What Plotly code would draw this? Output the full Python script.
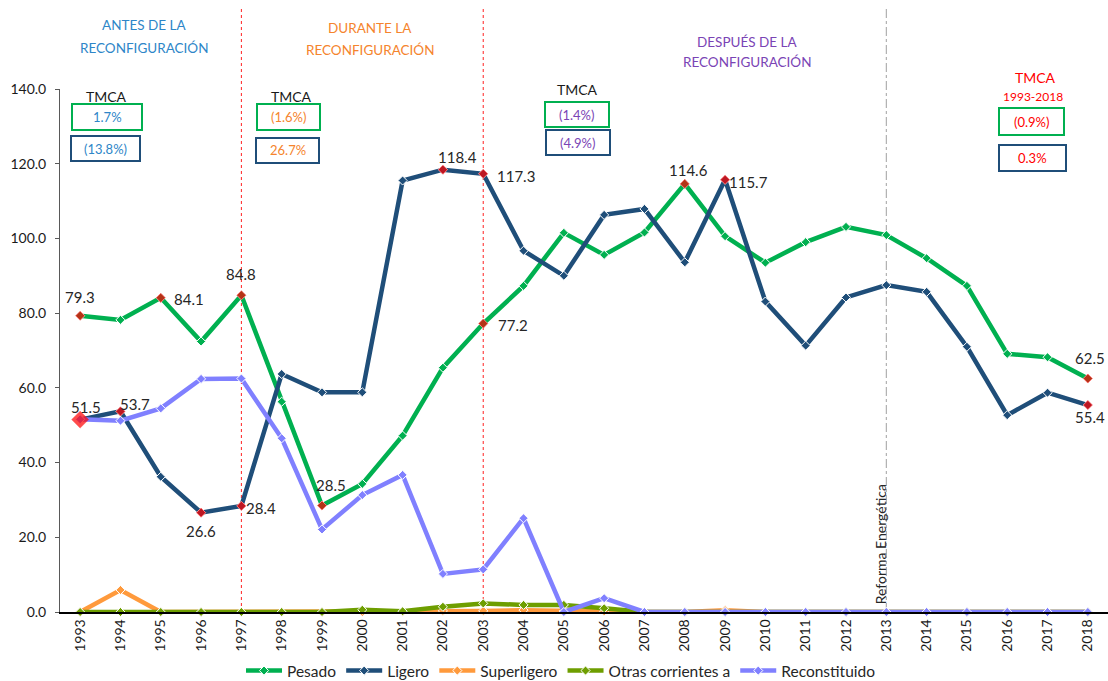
import plotly.graph_objects as go

years = list(range(1993, 2019))
year_labels = [str(y) for y in years]

pesado = [79.3, 78.2, 84.1, 72.4, 84.8, 56.3, 28.5, 34.3, 47.2, 65.4, 77.2, 87.3, 101.5,
          95.6, 101.6, 114.6, 100.6, 93.5, 99.0, 103.1, 100.9, 94.7, 87.3, 69.1, 68.2, 62.5]
ligero = [51.5, 53.7, 36.2, 26.6, 28.4, 63.7, 58.8, 58.8, 115.5, 118.4, 117.3, 96.7, 90.0,
          106.3, 107.9, 93.6, 115.7, 83.1, 71.3, 84.2, 87.5, 85.7, 71.0, 52.7, 58.7, 55.4]
superligero = [0.0, 5.9, 0.0, 0.0, 0.0, 0.0, 0.0, 0.0, 0.0, 0.3, 0.3, 0.5, 0.3,
               0.2, 0.0, 0.0, 0.5, 0.0, 0.0, 0.0, 0.0, 0.0, 0.0, 0.0, 0.0, 0.0]
otras = [0.0, 0.0, 0.0, 0.0, 0.0, 0.0, 0.0, 0.6, 0.2, 1.4, 2.3, 1.9, 1.9,
         1.0, 0.0, 0.0, 0.0, 0.0, 0.0, 0.0, 0.0, 0.0, 0.0, 0.0, 0.0, 0.0]
reconstituido = [51.6, 51.2, 54.5, 62.4, 62.5, 46.5, 22.1, 31.3, 36.7, 10.2, 11.4, 25.1, 0.0,
                 3.7, 0.0, 0.0, 0.0, 0.0, 0.0, 0.0, 0.0, 0.0, 0.0, 0.0, 0.0, 0.0]

series_names = ["Pesado", "Ligero", "Superligero", "Otras corrientes a", "Reconstituido"]
series_values = [pesado, ligero, superligero, otras, reconstituido]
series_colors = ["#00B050", "#1F4E79", "#FF9A3C", "#6E9E00", "#8080FF"]

# highlighted (labelled) points: year -> (xshift, yshift) of the label
pesado_labels = {1993: (0, 19), 1995: (28, -1), 1997: (0, 21), 1999: (9, 21),
                 2003: (30, -1), 2008: (4, 14), 2018: (2, 21)}
ligero_labels = {1993: (6, 13), 1994: (15, 7), 1996: (0, -18), 1997: (20, -2),
                 2002: (15, 13), 2003: (33, -2), 2009: (23, -2), 2018: (2, -12)}
highlight = {0: pesado_labels, 1: ligero_labels}

tmca_boxes_text = ["1.7%", "(13.8%)", "(1.6%)", "26.7%", "(1.4%)", "(4.9%)", "(0.9%)", "0.3%"]

FONT = "Lato, 'Open Sans', sans-serif"

W, H = 1108, 681
L, R, T, B = 60, 1108, 89, 612


def pxx(x):
    return (x - L) / (R - L)


def pxy(y):
    return (B - y) / (B - T)


def text_ann(x, y, txt, size, color, **kw):
    d = dict(x=pxx(x), y=pxy(y), xref="paper", yref="paper", text=txt, showarrow=False,
             xanchor="center", yanchor="middle",
             font=dict(family=FONT, size=size, color=color))
    d.update(kw)
    return d


fig = go.Figure()
for name, vals, col in zip(series_names, series_values, series_colors):
    fig.add_trace(go.Scatter(
        x=years, y=vals, name=name, mode="lines+markers",
        line=dict(color=col, width=4.5),
        marker=dict(symbol="diamond", size=7, color=col, line=dict(color="white", width=1)),
        cliponaxis=False,
    ))

annotations = []
for i, hl in highlight.items():
    vals = series_values[i]
    hx = list(hl.keys())
    hy = [vals[years.index(y)] for y in hx]
    hs = [13 if (i == 1 and y == 1993) else 7 for y in hx]
    fig.add_trace(go.Scatter(
        x=hx, y=hy, mode="markers", showlegend=False, hoverinfo="skip",
        marker=dict(symbol="diamond", size=hs, color="#FF0000",
                    line=dict(color="#FF0000", width=0.5)),
        cliponaxis=False,
    ))
    for y, (dx, dy) in hl.items():
        v = vals[years.index(y)]
        annotations.append(dict(x=y, y=v, xref="x", yref="y", text=f"{v:.1f}",
                                showarrow=False, xshift=dx, yshift=dy,
                                xanchor="center", yanchor="middle",
                                font=dict(family=FONT, size=15, color="#262626")))

# period titles (one annotation per line)
titles = [
    ("ANTES DE LA", 144, 25, "#2E86C8"), ("RECONFIGURACIÓN", 144, 48, "#2E86C8"),
    ("DURANTE LA", 370, 28, "#F5842D"), ("RECONFIGURACIÓN", 370, 50, "#F5842D"),
    ("DESPUÉS DE LA", 747, 42, "#7A44B5"), ("RECONFIGURACIÓN", 747, 62, "#7A44B5"),
]
for txt, x, y, c in titles:
    annotations.append(text_ann(x, y, txt, 13.5, c))

# TMCA headings
for x, y, txt, size, c in [(106, 96, "TMCA", 14, "#1a1a1a"), (291, 96, "TMCA", 14, "#1a1a1a"),
                           (577, 90, "TMCA", 14, "#1a1a1a"), (1035, 78, "TMCA", 14, "#FF0000"),
                           (1033, 97, "1993-2018", 12, "#FF0000")]:
    annotations.append(text_ann(x, y, txt, size, c))

# TMCA boxes: (x0, y0, x1, y1, border colour, text colour)
box_geom = [
    (72, 104, 142, 130, "#00B050", "#2E86C8"),
    (71, 136, 140, 161, "#1F4E79", "#2E86C8"),
    (257, 104, 320, 130, "#00B050", "#F5842D"),
    (256, 138, 319, 163, "#1F4E79", "#F5842D"),
    (545, 102, 609, 127, "#00B050", "#7A44B5"),
    (546, 130, 610, 155, "#1F4E79", "#7A44B5"),
    (999, 108, 1064, 135, "#00B050", "#FF0000"),
    (999, 145, 1066, 171, "#1F4E79", "#FF0000"),
]
shapes = []
for (x0, y0, x1, y1, bc, tc), txt in zip(box_geom, tmca_boxes_text):
    shapes.append(dict(type="rect", xref="paper", yref="paper",
                       x0=pxx(x0), x1=pxx(x1), y0=pxy(y1), y1=pxy(y0),
                       line=dict(color=bc, width=2), fillcolor="white", layer="above"))
    annotations.append(text_ann((x0 + x1) / 2, (y0 + y1) / 2, txt, 13, tc))

# vertical separators
for yr, col, dash in [(1997, "#FF2020", "dot"), (2003, "#FF2020", "dot"),
                      (2013, "#A0A0A0", "dashdot")]:
    shapes.append(dict(type="line", xref="x", yref="paper", x0=yr, x1=yr,
                       y0=0, y1=pxy(8), line=dict(color=col, width=1, dash=dash),
                       layer="below"))

annotations.append(dict(x=2013, y=pxy(544), xref="x", yref="paper",
                        text="Reforma Energética", textangle=-90, showarrow=False,
                        xanchor="center", yanchor="middle", xshift=-6,
                        font=dict(family=FONT, size=14, color="#262626")))

fig.update_layout(
    width=W, height=H,
    margin=dict(l=L, r=W - R, t=T, b=H - B, autoexpand=False),
    paper_bgcolor="white", plot_bgcolor="white",
    font=dict(family=FONT, color="#262626"),
    showlegend=True,
    legend=dict(orientation="h", x=pxx(561), xanchor="center", y=pxy(671),
                yanchor="middle", font=dict(family=FONT, size=15.5, color="#262626"),
                tracegroupgap=0, itemwidth=36, bgcolor="rgba(0,0,0,0)"),
    xaxis=dict(range=[1992.5, 2018.5], tickmode="array", tickvals=years,
               ticktext=year_labels, tickangle=-90, showgrid=False, zeroline=False,
               showline=True, linecolor="#000000", linewidth=1.5, ticks="",
               automargin=False,
               tickfont=dict(family=FONT, size=14, color="#1a1a1a")),
    yaxis=dict(range=[0, 140], tickmode="array", tickvals=[0, 20, 40, 60, 80, 100, 120, 140],
               ticktext=["0.0", "20.0", "40.0", "60.0", "80.0", "100.0", "120.0", "140.0"],
               showgrid=False, zeroline=False, showline=True, linecolor="#595959",
               linewidth=1, ticks="outside", ticklen=4, tickcolor="#595959",
               ticklabelstandoff=6, automargin=False,
               tickfont=dict(family=FONT, size=14, color="#1a1a1a")),
    annotations=annotations,
    shapes=shapes,
)

fig.write_html(
    "out.html",
    config={"displayModeBar": False},
    post_script=("document.body.style.margin='0';"
                 "document.body.style.overflow='hidden';"
                 "document.documentElement.style.overflow='hidden';"),
)
